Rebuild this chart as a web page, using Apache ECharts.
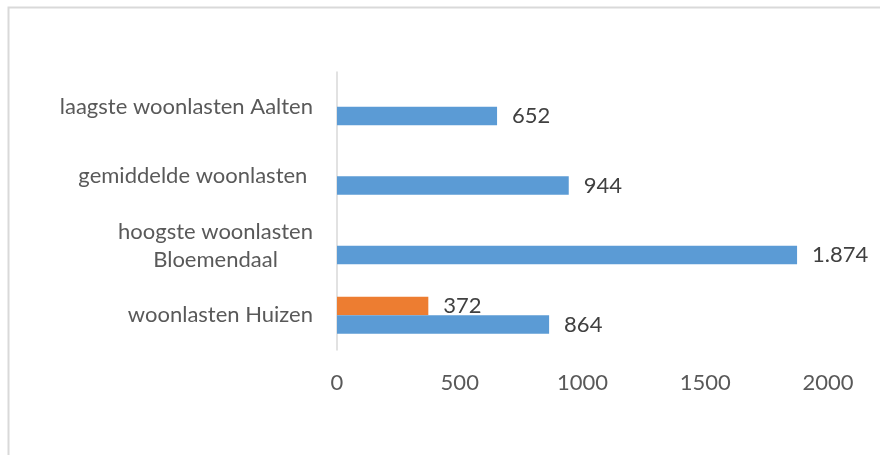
<!DOCTYPE html>
<html>
<head>
<meta charset="utf-8">
<script src="https://cdn.jsdelivr.net/npm/echarts@6/dist/echarts.min.js"></script>
<style>html,body{margin:0;padding:0;background:#fff;}#c{width:880px;height:455px;}</style>
</head>
<body>
<div id="c"></div>
<script>
const categories = ["woonlasten Huizen", "hoogste woonlasten\nBloemendaal", "gemiddelde woonlasten ", "laagste woonlasten Aalten"];
const blueValues = [864, 1874, 944, 652];
const orangeValues = [372, null, null, null];
const xTicks = [0, 500, 1000, 1500, 2000];

function fmt(v) {
  return String(v).replace(/\B(?=(\d{3})+(?!\d))/g, '.');
}
const FONT = 'Lato';
const FS = 22;
const chart = echarts.init(document.getElementById('c'), null, {renderer: 'canvas'});
chart.setOption({
  animation: false,
  backgroundColor: '#ffffff',
  graphic: [{
    type: 'rect', left: 6, top: 5, shape: {x: 0, y: 0, width: 900, height: 500},
    style: {fill: 'none', stroke: '#d9d9d9', lineWidth: 2}, silent: true
  }],
  grid: {left: 337, right: 52, top: 72, bottom: 105, containLabel: false},
  xAxis: {
    type: 'value', min: xTicks[0], max: xTicks[xTicks.length - 1], interval: 500,
    axisLine: {show: false}, axisTick: {show: false}, splitLine: {show: false},
    axisLabel: {color: '#595959', fontFamily: FONT, fontSize: FS, margin: 22,
      formatter: function (v) { return String(v); }}
  },
  yAxis: {
    type: 'category', data: categories,
    axisLine: {show: true, lineStyle: {color: '#d9d9d9', width: 1.5}},
    axisTick: {show: false}, splitLine: {show: false},
    axisLabel: {
      color: '#595959', fontFamily: FONT, fontSize: FS, margin: 24, lineHeight: 28,
      formatter: function (v) {
        return v.split('\n').map(function (s) { return '{c|' + s + '}'; }).join('\n');
      },
      rich: {c: {align: 'center', color: '#595959', fontFamily: FONT, fontSize: FS, lineHeight: 28}}
    }
  },
  series: [
    {
      name: 'Oranje', type: 'bar', data: orangeValues, barGap: '0%', barCategoryGap: '47%',
      itemStyle: {color: '#ED7D31'},
      label: {show: true, position: 'right', distance: 15, color: '#404040', fontFamily: FONT, fontSize: FS,
        formatter: function (p) { return p.value == null ? '' : fmt(p.value); }}
    },
    {
      name: 'Woonlasten', type: 'bar', data: blueValues, barGap: '0%', barCategoryGap: '47%',
      itemStyle: {color: '#5B9BD5'},
      label: {show: true, position: 'right', distance: 15, color: '#404040', fontFamily: FONT, fontSize: FS,
        formatter: function (p) { return fmt(p.value); }}
    }
  ]
});
</script>
</body>
</html>
